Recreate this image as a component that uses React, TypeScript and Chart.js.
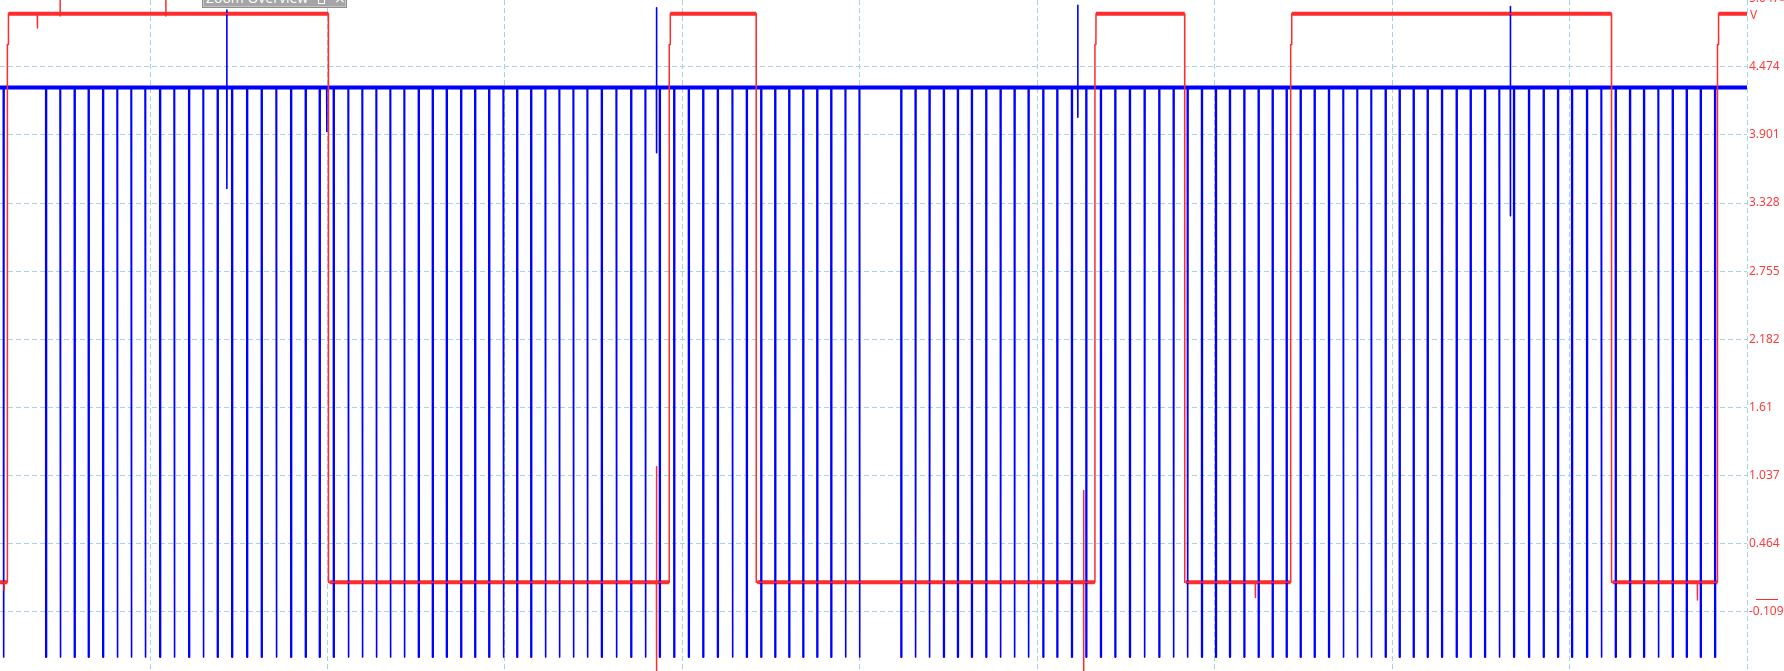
import React, { useEffect, useRef } from 'react';
import { Chart, registerables } from 'chart.js';

Chart.register(...registerables);

// ---- axis ranges (time in units, 10 units per grid division) ----
const xStart = -8.455;
const xEnd = 90;
const xGridTicks = [0, 10, 20, 30, 40, 50, 60, 70, 80, 90];

const yMin = -0.607;
const yMax = 5.035;
const yTickValues = [-0.109, 0.464, 1.037, 1.61, 2.182, 2.755, 3.328, 3.901, 4.474, 5.047];
const yTickLabels = ['-0.109', '0.464', '1.037', '1.61', '2.182', '2.755', '3.328', '3.901', '4.474', '5.047'];

// ---- channel 1 (blue): pulse train ----
const blueBase = 4.3;
const blueLow = -0.49;
const bluePulseWidth = 0.04;
const bluePulseTimes = [
  -8.27, -5.879, -5.073, -4.267, -3.478, -2.666, -1.86, -1.071, -0.282, 0.547,
  1.353, 2.182, 2.988, 3.794, 4.605, 5.451, 6.274, 7.103, 7.931, 8.754,
  9.543, 10.333, 11.161, 11.95, 12.74, 13.529, 14.318, 15.124, 15.913, 16.703,
  17.514, 18.303, 19.093, 19.899, 20.671, 21.46, 22.266, 23.055, 23.845, 24.634,
  25.44, 26.268, 27.097, 27.903, 28.709, 29.521, 30.344, 31.156, 31.979, 32.807,
  33.613, 34.425, 35.214, 36.004, 36.793, 37.582, 38.371, 39.177, 39.966,
  42.317, 43.123, 43.912, 44.718, 45.508, 46.297, 47.108, 47.915, 48.704, 49.493,
  50.322, 51.111, 51.934, 52.746, 53.568, 54.38, 55.203, 56.032, 56.86, 57.667,
  58.456, 59.262, 60.051, 60.84, 61.652, 62.458, 63.248, 64.037, 64.826, 65.615,
  66.421, 67.233, 68.022, 68.811, 69.617, 70.406, 71.195, 71.985, 72.791, 73.619,
  74.408, 75.215, 76.026, 76.849, 77.695, 78.523, 79.33, 80.119, 80.964, 81.776,
  82.582, 83.388, 84.177, 84.989, 85.795, 86.584, 87.374, 88.18,
];
const blueGlitchTimes = [4.324, 9.955, 28.54, 52.28, 76.66];
const blueGlitchHigh = [4.95, 4.3, 4.97, 4.99, 4.98];
const blueGlitchLow = [3.45, 3.93, 3.75, 4.05, 3.22];

// ---- channel 2 (red): square wave ----
const redHigh = 4.92;
const redLow = 0.14;
const redRiseStep = 4.66;
const redEdgeTimes = [-8.044, 10.051, 29.256, 34.16, 53.247, 58.309, 64.279, 82.362, 88.332];
const redGlitchTimes = [-8.23, -6.353, -5.073, 0.885, 28.54, 52.61, 62.29, 87.2];
const redGlitchHigh = [0.14, 4.92, 5.03, 5.04, 1.11, 0.91, 0.14, 0.14];
const redGlitchLow = [0.07, 4.8, 4.9, 4.9, -0.75, -0.75, 0.01, -0.01];

const BLUE = '#0000ff';
const RED = '#ff2d2d';
const TICK_RED = '#ff3c3c';
const GRID = 'rgb(168,212,226)';

type P = { x: number; y: number | null };

function buildBlue(): P[] {
  const evs: { t: number; k: 'p' | 'g'; i: number }[] = [
    ...bluePulseTimes.map((t, i) => ({ t, k: 'p' as const, i })),
    ...blueGlitchTimes.map((t, i) => ({ t, k: 'g' as const, i })),
  ].sort((a, b) => a.t - b.t);
  const pts: P[] = [{ x: xStart, y: blueBase }];
  for (const e of evs) {
    if (e.k === 'p') {
      pts.push(
        { x: e.t, y: blueBase },
        { x: e.t + 0.005, y: blueLow },
        { x: e.t + bluePulseWidth, y: blueLow },
        { x: e.t + bluePulseWidth + 0.005, y: blueBase },
      );
    } else {
      pts.push(
        { x: e.t, y: blueBase },
        { x: e.t + 0.003, y: blueGlitchHigh[e.i] },
        { x: e.t + 0.01, y: blueGlitchLow[e.i] },
        { x: e.t + 0.015, y: blueBase },
      );
    }
  }
  pts.push({ x: xEnd, y: blueBase });
  return pts;
}

function buildRed(): { trace: P[]; band: P[] } {
  const evs: { t: number; k: 'e' | 'g'; i: number }[] = [
    ...redEdgeTimes.map((t, i) => ({ t, k: 'e' as const, i })),
    ...redGlitchTimes.map((t, i) => ({ t, k: 'g' as const, i })),
  ].sort((a, b) => a.t - b.t);
  let level = redLow;
  const trace: P[] = [{ x: xStart, y: level }];
  const band: P[] = [{ x: xStart, y: level }];
  for (const e of evs) {
    if (e.k === 'e') {
      trace.push({ x: e.t, y: level });
      band.push({ x: e.t, y: level }, { x: e.t + 0.001, y: null });
      if (level === redLow) {
        trace.push(
          { x: e.t + 0.005, y: redRiseStep },
          { x: e.t + 0.06, y: redRiseStep },
          { x: e.t + 0.065, y: redHigh },
        );
        level = redHigh;
      } else {
        trace.push({ x: e.t + 0.005, y: redLow });
        level = redLow;
      }
      band.push({ x: e.t + 0.065, y: level });
    } else {
      trace.push(
        { x: e.t, y: level },
        { x: e.t + 0.003, y: redGlitchHigh[e.i] },
        { x: e.t + 0.01, y: redGlitchLow[e.i] },
        { x: e.t + 0.015, y: level },
      );
    }
  }
  trace.push({ x: xEnd, y: level });
  band.push({ x: xEnd, y: level });
  return { trace, band };
}

const overlayPlugin = {
  id: 'scopeOverlay',
  afterDraw(chart: any) {
    const ctx = chart.ctx as CanvasRenderingContext2D;
    const ca = chart.chartArea;
    const ys = chart.scales.y;
    ctx.save();
    const topY = ys.getPixelForValue(5.047);
    ctx.fillStyle = TICK_RED;
    ctx.font = '12px "Noto Sans"';
    ctx.textAlign = 'left';
    ctx.textBaseline = 'middle';
    ctx.fillText('V', ca.right + 3, topY + 17);
    ctx.fillStyle = RED;
    ctx.fillRect(ca.right + 33, topY - 3, 4, 5);
    const zy = Math.round(ys.getPixelForValue(0)) + 0.5;
    ctx.strokeStyle = RED;
    ctx.lineWidth = 1;
    ctx.beginPath();
    ctx.moveTo(ca.right + 9, zy);
    ctx.lineTo(ca.right + 31, zy);
    ctx.stroke();
    ctx.restore();
  },
};

export default function App() {
  const ref = useRef<HTMLCanvasElement | null>(null);

  useEffect(() => {
    if (!ref.current) return;
    const blue = buildBlue();
    const red = buildRed();
    const chart = new Chart(ref.current, {
      type: 'line',
      data: {
        datasets: [
          {
            label: 'CH2',
            data: red.trace as any,
            borderColor: RED,
            borderWidth: 1.5,
            pointRadius: 0,
            tension: 0,
            borderJoinStyle: 'round',
          },
          {
            label: 'CH1',
            data: blue as any,
            borderColor: BLUE,
            borderWidth: 1.6,
            pointRadius: 0,
            tension: 0,
            borderJoinStyle: 'round',
          },
          {
            label: 'CH2 band',
            data: red.band as any,
            borderColor: RED,
            borderWidth: 4,
            pointRadius: 0,
            tension: 0,
            spanGaps: false,
          },
          {
            label: 'CH1 band',
            data: [
              { x: xStart, y: blueBase },
              { x: xEnd, y: blueBase },
            ],
            borderColor: BLUE,
            borderWidth: 4,
            pointRadius: 0,
            tension: 0,
          },
        ],
      },
      options: {
        animation: false,
        responsive: false,
        events: [],
        layout: { padding: 0, autoPadding: false } as any,
        plugins: { legend: { display: false }, tooltip: { enabled: false }, title: { display: false } },
        scales: {
          x: {
            type: 'linear',
            min: xStart,
            max: xEnd,
            afterBuildTicks: (s: any) => {
              s.ticks = xGridTicks.map((v) => ({ value: v }));
            },
            afterFit: (s: any) => {
              s.height = 0;
              s.paddingLeft = 0;
              s.paddingRight = 0;
            },
            ticks: { display: false },
            grid: { color: GRID, lineWidth: 1, drawTicks: false },
            border: { display: false, dash: [5, 3] },
          },
          y: {
            type: 'linear',
            position: 'right',
            min: yMin,
            max: yMax,
            afterBuildTicks: (s: any) => {
              s.ticks = yTickValues.map((v) => ({ value: v }));
            },
            afterFit: (s: any) => {
              s.width = 37;
              s.paddingTop = 0;
              s.paddingBottom = 0;
            },
            ticks: {
              color: TICK_RED,
              font: { family: '"Noto Sans"', size: 12 },
              padding: 2,
              autoSkip: false,
              callback: (_v: any, i: number) => yTickLabels[i],
            },
            grid: { color: GRID, lineWidth: 1, drawTicks: false },
            border: { display: false, dash: [5, 3] },
          },
        },
      },
      plugins: [overlayPlugin],
    });
    return () => chart.destroy();
  }, []);

  return (
    <div
      style={{
        position: 'fixed',
        left: 0,
        top: 0,
        width: 1784,
        height: 671,
        overflow: 'hidden',
        background: '#fff',
      }}
    >
      <canvas ref={ref} width={1784} height={671} style={{ display: 'block' }} />
      <div
        style={{
          position: 'absolute',
          left: 202,
          top: -14,
          width: 145,
          height: 22,
          boxSizing: 'border-box',
          background: '#a5a5a5',
          border: '1px solid #8e8e8e',
          boxShadow: 'inset 0 0 0 1px #c4c4c4',
        }}
      >
        <span
          style={{
            position: 'absolute',
            left: 3,
            top: 4,
            color: '#fff',
            font: '14px "Open Sans"',
            lineHeight: '14px',
            whiteSpace: 'nowrap',
          }}
        >
          Zoom Overview
        </span>
        <div
          style={{
            position: 'absolute',
            left: 115,
            top: 10,
            width: 7,
            height: 7,
            boxSizing: 'border-box',
            border: '1px solid #fff',
          }}
        />
        <span
          style={{
            position: 'absolute',
            left: 131,
            top: 4,
            color: '#fff',
            font: '14px "DejaVu Sans"',
            lineHeight: '14px',
          }}
        >
          ×
        </span>
      </div>
    </div>
  );
}
